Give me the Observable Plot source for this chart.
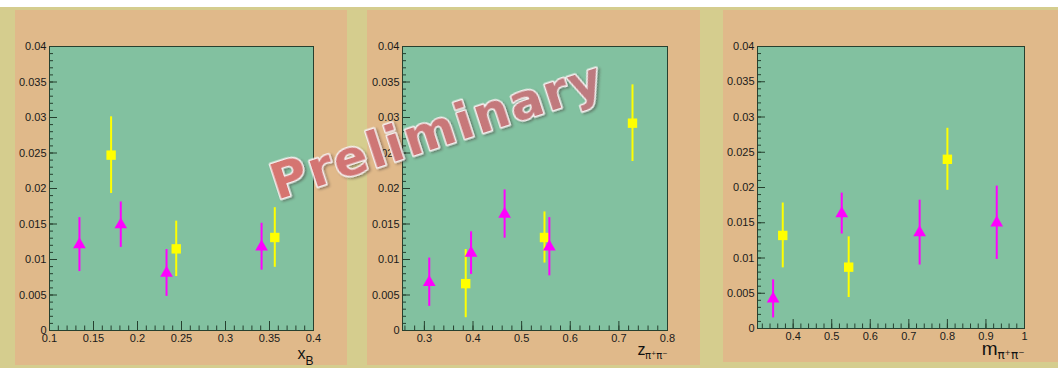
<!DOCTYPE html>
<html><head><meta charset="utf-8">
<script src="https://cdn.jsdelivr.net/npm/d3@7"></script>
<script src="https://cdn.jsdelivr.net/npm/@observablehq/plot@0.6"></script>
<style>
html,body{margin:0;padding:0;background:#fff;}
#page{position:relative;width:1058px;height:368px;overflow:hidden;background:#fff;}
#band{position:absolute;left:0;top:7px;width:1058px;height:361px;background:#d5cd8e;}
.panel{position:absolute;top:10px;background:#e0b98a;}
.panel svg{display:block;}
#wm{position:absolute;left:0;top:0;pointer-events:none;}
</style></head><body><div id="page"><div id="band"></div></div>
<script>
// ---- tick labels ----
const yTicks = [0, 0.005, 0.01, 0.015, 0.02, 0.025, 0.03, 0.035, 0.04];
const xbTicks = [0.1, 0.15, 0.2, 0.25, 0.3, 0.35, 0.4];
const zTicks = [0.3, 0.4, 0.5, 0.6, 0.7, 0.8];
const mTicks = [0.4, 0.5, 0.6, 0.7, 0.8, 0.9, 1];

// ---- panel 1: x_B ----
const magX1 = [0.134, 0.181, 0.233, 0.341];
const magY1 = [0.0121, 0.0149, 0.0081, 0.0118];
const magE1 = [0.0038, 0.0032, 0.0033, 0.0033];
const yelX1 = [0.170, 0.244, 0.356];
const yelY1 = [0.0247, 0.0115, 0.0131];
const yelE1 = [0.0054, 0.0039, 0.0042];

// ---- panel 2: z ----
const magX2 = [0.310, 0.396, 0.465, 0.557];
const magY2 = [0.0068, 0.0109, 0.0164, 0.0118];
const magE2 = [0.0034, 0.0030, 0.0034, 0.0041];
const yelX2 = [0.385, 0.547, 0.728];
const yelY2 = [0.0066, 0.0131, 0.0292];
const yelE2 = [0.0048, 0.0036, 0.0054];

// ---- panel 3: m ----
const magX3 = [0.348, 0.526, 0.728, 0.928];
const magY3 = [0.0042, 0.0163, 0.0136, 0.0150];
const magE3 = [0.0027, 0.0029, 0.0046, 0.0052];
const yelX3 = [0.373, 0.544, 0.800];
const yelY3 = [0.0132, 0.0087, 0.0240];
const yelE3 = [0.0046, 0.0043, 0.0044];

const GREEN = "#82c1a0", INK = "#26402f", MAG = "#ff00ff", YEL = "#ffff00";
const FONT = "'Liberation Sans', Arial, Helvetica, sans-serif";

const pts = (xs, ys, es) => xs.map((x, i) => ({x, y: ys[i], e: es[i]}));
function minors(d0, d1, step) {
  const a = Math.ceil(d0 / step - 1e-9), b = Math.floor(d1 / step + 1e-9);
  return d3.range(a, b + 1).map(i => +(i * step).toFixed(5));
}

const panels = [
  {left: 15, width: 332, height: 355, mt: 36, mb: 35, ml: 34, mr: 34,
   domain: [0.1, 0.4], ticks: xbTicks, minorStep: 0.01,
   mag: pts(magX1, magY1, magE1), yel: pts(yelX1, yelY1, yelE1),
   title: [
     {t: "x", size: 16, dx: -8, dy: 28, fam: FONT},
     {t: "B", size: 12, dx: 0, dy: 34, fam: FONT}]},
  {left: 367, width: 333, height: 355, mt: 36, mb: 35, ml: 35, mr: 33,
   domain: [0.255, 0.8], ticks: zTicks, minorStep: 0.02,
   mag: pts(magX2, magY2, magE2), yel: pts(yelX2, yelY2, yelE2),
   title: [
     {t: "z", size: 16, dx: -22, dy: 24, fam: FONT},
     {t: "π⁺π⁻", size: 10, dx: 0, dy: 28, fam: "'DejaVu Sans', sans-serif"}]},
  {left: 723, width: 335, height: 352, mt: 36, mb: 34, ml: 34, mr: 34,
   domain: [0.3075, 1], ticks: mTicks, minorStep: 0.02,
   mag: pts(magX3, magY3, magE3), yel: pts(yelX3, yelY3, yelE3),
   title: [
     {t: "m", size: 19, dx: -27, dy: 26, fam: FONT},
     {t: "π⁺π⁻", size: 12, dx: 0, dy: 30, fam: "'DejaVu Sans', sans-serif"}]}
];

const page = document.getElementById("page");
for (const p of panels) {
  const fw = p.width - p.ml - p.mr, fh = p.height - p.mt - p.mb;
  const minorX = minors(p.domain[0], p.domain[1], p.minorStep);
  const minorY = minors(0, 0.04, 0.001);
  const chart = Plot.plot({
    width: p.width, height: p.height,
    marginTop: p.mt, marginBottom: p.mb, marginLeft: p.ml, marginRight: p.mr,
    style: {background: "transparent", fontFamily: FONT, overflow: "visible"},
    x: {domain: p.domain, label: null},
    y: {domain: [0, 0.04], label: null},
    marks: [
      Plot.frame({fill: GREEN, stroke: "none"}),
      Plot.tickX(minorX, {x: d => d, stroke: INK, strokeWidth: 1, insetTop: fh - 4.5}),
      Plot.tickX(p.ticks, {x: d => d, stroke: INK, strokeWidth: 1, insetTop: fh - 9}),
      Plot.tickY(minorY, {y: d => d, stroke: INK, strokeWidth: 1, insetRight: fw - 4}),
      Plot.tickY(yTicks, {y: d => d, stroke: INK, strokeWidth: 1, insetRight: fw - 8}),
      Plot.ruleX(p.yel, {x: "x", y1: d => d.y - d.e, y2: d => d.y + d.e, stroke: YEL, strokeWidth: 2}),
      Plot.dot(p.yel, {x: "x", y: "y", symbol: "square", r: 5.3, fill: YEL, stroke: "none"}),
      Plot.ruleX(p.mag, {x: "x", y1: d => d.y - d.e, y2: d => d.y + d.e, stroke: MAG, strokeWidth: 2}),
      Plot.dot(p.mag, {x: "x", y: "y", symbol: "triangle", r: 4.7, fill: MAG, stroke: "none"}),
      Plot.frame({stroke: INK, strokeWidth: 1}),
      Plot.axisX({ticks: p.ticks, tickSize: 0, tickPadding: 4, label: null, fontSize: 11,
                  fill: "#1a1a1a", tickFormat: d => String(d)}),
      Plot.axisY({ticks: yTicks, tickSize: 0, tickPadding: 3, label: null, fontSize: 11,
                  fill: "#1a1a1a", tickFormat: d => String(d)}),
      ...p.title.map(s => Plot.text([s.t], {frameAnchor: "bottom-right", textAnchor: "end",
        lineAnchor: "bottom", dx: s.dx, dy: s.dy, fontSize: s.size, fill: "#111",
        fontFamily: s.fam}))
    ]
  });
  const div = document.createElement("div");
  div.className = "panel";
  div.style.left = p.left + "px";
  div.style.width = p.width + "px";
  div.style.height = p.height + "px";
  div.appendChild(chart);
  page.appendChild(div);
}

// "Preliminary" watermark overlay
const wm = d3.create("svg").attr("id", "wm").attr("width", 1058).attr("height", 368);
const defs = wm.append("defs");
const f = defs.append("filter").attr("id", "sh").attr("x", "-10%").attr("y", "-30%").attr("width", "130%").attr("height", "160%");
f.append("feDropShadow").attr("dx", 1.5).attr("dy", 2).attr("stdDeviation", 1.2)
  .attr("flood-color", "#3c2a2a").attr("flood-opacity", 0.45);
const g = defs.append("linearGradient").attr("id", "wg").attr("x1", "0").attr("y1", "0").attr("x2", "1").attr("y2", "0");
g.append("stop").attr("offset", "0%").attr("stop-color", "#d77470");
g.append("stop").attr("offset", "100%").attr("stop-color", "#bc7a80");
wm.append("text")
  .attr("x", 277).attr("y", 200)
  .attr("transform", "rotate(-18 277 200)")
  .attr("font-family", "'DejaVu Sans', sans-serif")
  .attr("font-weight", "bold")
  .attr("font-size", 50)
  .attr("letter-spacing", 2)
  .attr("fill", "url(#wg)")
  .attr("stroke", "#f6f0f0")
  .attr("stroke-width", 3)
  .attr("stroke-linejoin", "round")
  .attr("paint-order", "stroke")
  .attr("filter", "url(#sh)")
  .text("Preliminary");
page.appendChild(wm.node());
</script>
</body></html>
